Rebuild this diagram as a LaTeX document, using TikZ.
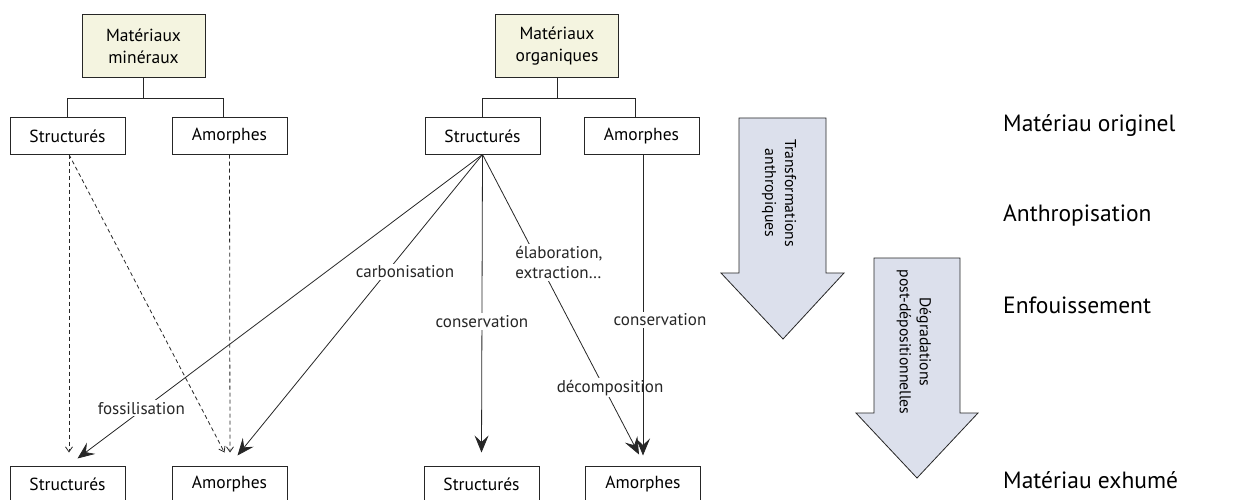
\documentclass[tikz,border=0pt]{standalone}
\usepackage{fontspec}
\setmainfont{PT Sans}
\usetikzlibrary{arrows.meta,positioning}
\definecolor{beige}{RGB}{244,244,224}
\definecolor{bleu}{RGB}{220,224,236}

\begin{document}
\begin{tikzpicture}[x=1pt,y=-1pt,
  boite/.style={draw=black!85,line width=1pt,minimum width=115pt,minimum height=36pt,
    inner sep=0pt,align=center,font=\fontsize{17.5}{22}\selectfont},
  mat/.style={boite,fill=beige,minimum width=123pt,minimum height=63pt},
  lien/.style={line width=0.8pt,black!85},
  plein/.style={lien,-{Stealth[length=17pt,width=14pt,inset=6.5pt]}},
  tirets/.style={lien,dash pattern=on 4pt off 3pt,-{Straight Barb[length=5pt,width=7pt]}},
  lbl/.style={fill=white,inner sep=2pt,font=\fontsize{17}{20}\selectfont},
  fleche/.style={draw=black!85,line width=0.8pt,fill=bleu},
  etape/.style={anchor=west,inner sep=0pt,font=\fontsize{23.5}{28}\selectfont}]
%Processus de transformation des materiaux
\useasboundingbox (0,0) rectangle (1241,500);

\node[mat] (MM) at (143.5,46.5) {Matériaux\\minéraux};
\node[boite] (MS) at (67.5,136) {Structurés};
\node[boite] (MA) at (229.5,136) {Amorphes};
\node[mat] (OM) at (557,46.5) {Matériaux\\organiques};
\node[boite] (OS) at (482.5,136) {Structurés};
\node[boite] (OA) at (641.5,136) {Amorphes};

\node[boite] (MSb) at (67.5,484) {Structurés};
\node[boite] (MAb) at (229.5,484) {Amorphes};
\node[boite] (OSb) at (481.5,484) {Structurés};
\node[boite] (OAb) at (643,484) {Amorphes};

\draw[lien] (MM.south) -- ++(0,20) -| (MS.north);
\draw[lien] (MM.south) -- ++(0,20) -| ([xshift=-6pt]MA.north);
\draw[lien] (OM.south) -- ++(0,20) -| (OS.north);
\draw[lien] (OM.south) -- ++(0,20) -| ([xshift=-6pt]OA.north);

\draw[tirets] ([xshift=1.5pt]MS.south) -- ([shift={(1.5,-13)}]MSb.north);
\draw[tirets] ([xshift=1.5pt]MS.south) -- ([shift={(-5,-13)}]MAb.north);
\draw[tirets] (MA.south) -- ([shift={(0.5,-13)}]MAb.north);

\draw[plein] (OS.south) -- node[lbl,pos=0.835,xshift=-3pt] {fossilisation} ([shift={(10,-7)}]MSb.north);
\draw[plein] (OS.south) -- node[lbl,pos=0.39,xshift=18pt] {carbonisation} ([shift={(8,-10)}]MAb.north);
\draw[plein] (OS.south) -- node[lbl,pos=0.56] {conservation} ([yshift=13pt]OSb.north);
\draw[plein] (OS.south)
  -- node[lbl,pos=0.36,xshift=20pt,align=left] {élaboration,\\extraction…}
     node[lbl,pos=0.777,xshift=6pt] {décomposition}
  ([shift={(-4,-11)}]OAb.north);
\draw[plein] ([xshift=1.5pt]OA.south) -- node[lbl,pos=0.55,xshift=17pt] {conservation} ([shift={(0,-10)}]OAb.north);

\draw[fleche] (739,118) -- (826,118) -- (826,273) -- (844,273) -- (783,339) -- (721,273) -- (739,273) -- cycle;
\node[rotate=-90,align=center,font=\fontsize{15.7}{20}\selectfont] (T1) at (779,193) {Transformations\\anthropiques};
\draw[fleche] (874,258) -- (960,258) -- (960,413) -- (978,413) -- (917,478) -- (856,413) -- (874,413) -- cycle;
\node[rotate=-90,align=center,font=\fontsize{15.7}{20}\selectfont] (T2) at (914,342) {Dégradations\\post-dépositionnelles};

\node[etape] (E1) at (1003,126) {Matériau originel};
\node[etape] (E2) at (1003,215) {Anthropisation};
\node[etape] (E3) at (1003,305) {Enfouissement};
\node[etape] (E4) at (1003,480) {Matériau exhumé};
\end{tikzpicture}
\end{document}
